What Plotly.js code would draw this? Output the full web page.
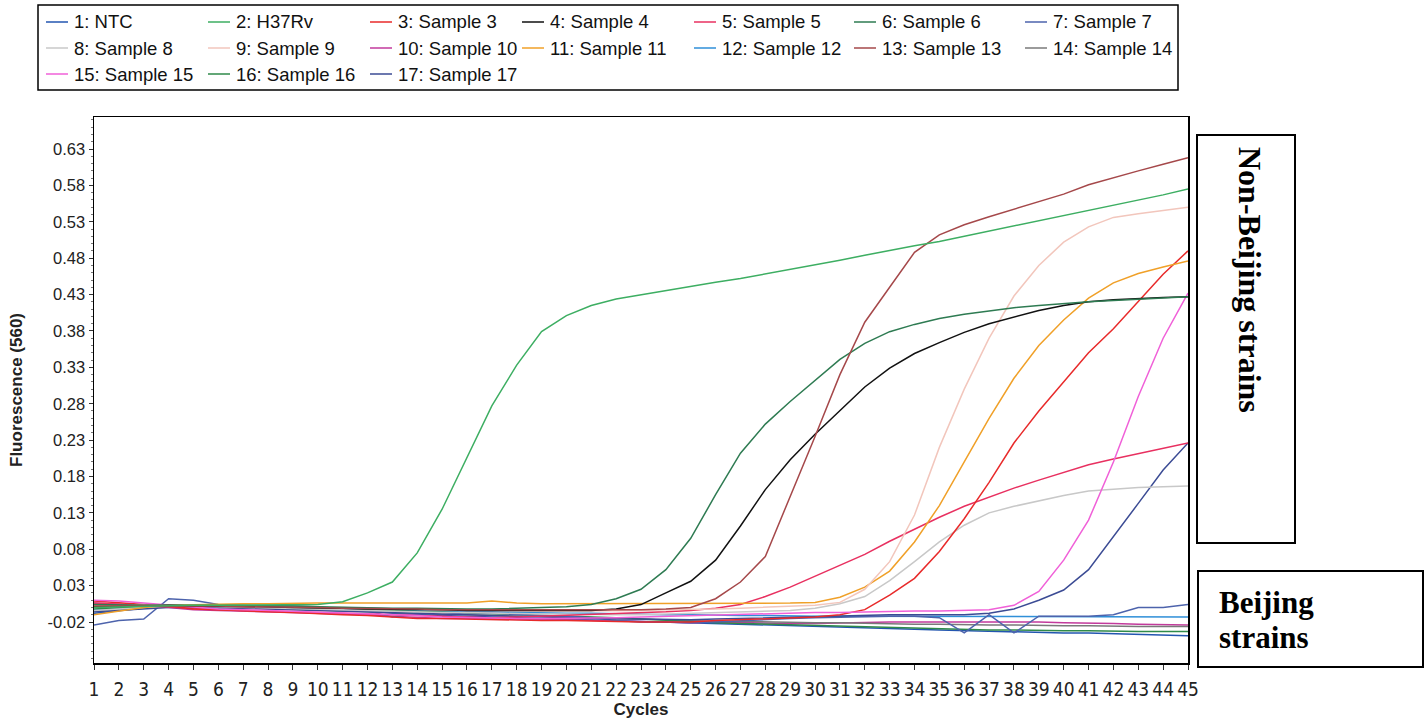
<!DOCTYPE html>
<html><head><meta charset="utf-8">
<script src="https://cdn.plot.ly/plotly-3.0.1.min.js"></script>
<style>html,body{margin:0;padding:0;background:#fff;} #chart{width:1424px;height:719px;}</style>
</head><body><div id="chart"></div>
<script>
// ---------------- data ----------------
const cycles = [1,2,3,4,5,6,7,8,9,10,11,12,13,14,15,16,17,18,19,20,21,22,23,24,25,26,27,28,29,30,31,32,33,34,35,36,37,38,39,40,41,42,43,44,45];
const xTickLabels = ['1','2','3','4','5','6','7','8','9','10','11','12','13','14','15','16','17','18','19','20','21','22','23','24','25','26','27','28','29','30','31','32','33','34','35','36','37','38','39','40','41','42','43','44','45'];
const yTickVals = [0.63,0.58,0.53,0.48,0.43,0.38,0.33,0.28,0.23,0.18,0.13,0.08,0.03,-0.02];
const yTickText = ['0.63','0.58','0.53','0.48','0.43','0.38','0.33','0.28','0.23','0.18','0.13','0.08','0.03','-0.02'];

const seriesNames = ['1: NTC','2: H37Rv','3: Sample 3','4: Sample 4','5: Sample 5','6: Sample 6','7: Sample 7',
  '8: Sample 8','9: Sample 9','10: Sample 10','11: Sample 11','12: Sample 12','13: Sample 13','14: Sample 14',
  '15: Sample 15','16: Sample 16','17: Sample 17'];
const seriesColors = ['#2356b0','#3dae62','#e82a2a','#111111','#e83060','#2e7b52','#4d63ac',
  '#c8c8c8','#f2c6bc','#c23a9c','#f0a028','#2f8fd8','#a5484a','#7a7a7a',
  '#f060d8','#2f8a4a','#3b4b94'];

const ntc      = [-0.008,-0.004,-0.001,0.002,0.002,0.002,0.001,0.0,-0.001,-0.003,-0.004,-0.005,-0.008,-0.01,-0.011,-0.012,-0.013,-0.014,-0.015,-0.016,-0.017,-0.019,-0.02,-0.021,-0.022,-0.023,-0.024,-0.025,-0.026,-0.026,-0.027,-0.028,-0.029,-0.03,-0.031,-0.032,-0.033,-0.034,-0.034,-0.035,-0.035,-0.036,-0.038,-0.039,-0.039];
const h37rv    = [0.0,0.001,0.002,0.003,0.003,0.003,0.003,0.003,0.004,0.004,0.008,0.02,0.035,0.075,0.135,0.205,0.277,0.333,0.379,0.401,0.415,0.424,0.43,0.436,0.441,0.447,0.452,0.458,0.464,0.47,0.477,0.484,0.491,0.497,0.503,0.51,0.517,0.524,0.531,0.538,0.545,0.552,0.559,0.567,0.575];
const sample3  = [0.009,0.006,0.004,0.002,-0.002,-0.003,-0.005,-0.006,-0.007,-0.009,-0.01,-0.011,-0.013,-0.015,-0.015,-0.016,-0.016,-0.018,-0.018,-0.018,-0.019,-0.019,-0.02,-0.02,-0.02,-0.018,-0.017,-0.016,-0.015,-0.013,-0.01,-0.003,0.017,0.04,0.077,0.122,0.172,0.226,0.27,0.31,0.35,0.383,0.42,0.458,0.49];
const sample4  = [0.001,0.002,0.003,0.003,0.002,0.002,0.001,0.001,0.0,0.0,-0.001,-0.002,-0.002,-0.003,-0.003,-0.004,-0.004,-0.005,-0.005,-0.005,-0.004,-0.002,0.004,0.02,0.036,0.065,0.112,0.162,0.203,0.238,0.271,0.303,0.329,0.349,0.364,0.378,0.39,0.399,0.408,0.415,0.42,0.423,0.425,0.426,0.427];
const sample5  = [0.006,0.004,0.003,0.001,-0.002,-0.003,-0.004,-0.005,-0.005,-0.007,-0.008,-0.009,-0.01,-0.012,-0.013,-0.014,-0.014,-0.013,-0.012,-0.011,-0.01,-0.009,-0.008,-0.006,-0.004,-0.001,0.004,0.015,0.028,0.043,0.058,0.073,0.091,0.108,0.124,0.139,0.152,0.164,0.175,0.186,0.196,0.204,0.211,0.219,0.226];
const sample6  = [0.004,0.003,0.003,0.003,0.003,0.003,0.002,0.002,0.002,0.001,0.0,0.0,-0.001,-0.001,-0.002,-0.002,-0.002,-0.001,0.0,0.001,0.004,0.012,0.025,0.052,0.095,0.155,0.212,0.252,0.283,0.312,0.341,0.363,0.379,0.389,0.397,0.403,0.408,0.412,0.415,0.418,0.42,0.422,0.424,0.425,0.427];
const sample7  = [-0.024,-0.018,-0.016,0.012,0.01,0.004,0.003,0.003,0.002,0.001,-0.002,-0.005,-0.013,-0.008,-0.01,-0.007,-0.008,-0.01,-0.011,-0.012,-0.014,-0.018,-0.02,-0.02,-0.021,-0.02,-0.018,-0.016,-0.015,-0.014,-0.013,-0.013,-0.012,-0.012,-0.014,-0.035,-0.01,-0.035,-0.012,-0.012,-0.012,-0.01,0.0,0.0,0.004];
const sample8  = [-0.004,-0.002,0.0,0.002,0.002,0.001,0.0,0.0,-0.001,-0.002,-0.003,-0.004,-0.005,-0.006,-0.007,-0.007,-0.008,-0.008,-0.009,-0.009,-0.01,-0.01,-0.01,-0.009,-0.008,-0.007,-0.006,-0.005,-0.004,-0.001,0.005,0.015,0.037,0.063,0.09,0.113,0.13,0.139,0.147,0.154,0.16,0.163,0.165,0.166,0.167];
const sample9  = [0.002,0.003,0.003,0.003,0.002,0.002,0.002,0.001,0.001,0.0,0.0,-0.001,-0.002,-0.003,-0.003,-0.004,-0.004,-0.005,-0.005,-0.005,-0.005,-0.004,-0.004,-0.003,-0.003,-0.002,-0.001,0.0,0.001,0.003,0.007,0.025,0.063,0.127,0.22,0.3,0.37,0.428,0.47,0.502,0.523,0.536,0.541,0.545,0.55];
const sample10 = [0.006,0.005,0.003,0.0,-0.003,-0.004,-0.005,-0.006,-0.007,-0.008,-0.009,-0.01,-0.012,-0.014,-0.015,-0.015,-0.016,-0.016,-0.017,-0.017,-0.018,-0.019,-0.02,-0.02,-0.021,-0.02,-0.021,-0.022,-0.022,-0.022,-0.021,-0.02,-0.02,-0.02,-0.02,-0.02,-0.019,-0.019,-0.02,-0.021,-0.021,-0.022,-0.023,-0.023,-0.024];
const sample11 = [-0.01,-0.005,0.0,0.003,0.004,0.005,0.005,0.005,0.006,0.006,0.006,0.006,0.006,0.006,0.006,0.006,0.009,0.006,0.005,0.005,0.005,0.005,0.005,0.005,0.005,0.005,0.005,0.005,0.006,0.007,0.014,0.028,0.05,0.09,0.14,0.2,0.26,0.315,0.36,0.395,0.425,0.446,0.459,0.468,0.476];
const sample12 = [-0.003,-0.001,0.001,0.002,0.002,0.001,0.0,0.0,-0.001,-0.002,-0.003,-0.004,-0.004,-0.005,-0.005,-0.006,-0.006,-0.007,-0.007,-0.008,-0.008,-0.009,-0.009,-0.01,-0.01,-0.011,-0.011,-0.011,-0.012,-0.012,-0.012,-0.012,-0.012,-0.013,-0.013,-0.013,-0.013,-0.013,-0.013,-0.013,-0.013,-0.013,-0.013,-0.013,-0.013];
const sample13 = [0.002,0.002,0.003,0.003,0.002,0.002,0.001,0.001,0.0,0.0,-0.001,-0.001,-0.002,-0.002,-0.003,-0.003,-0.003,-0.004,-0.004,-0.004,-0.004,-0.003,-0.003,-0.002,0.0,0.012,0.035,0.07,0.152,0.235,0.32,0.392,0.44,0.488,0.512,0.526,0.537,0.547,0.557,0.568,0.581,0.591,0.6,0.609,0.618];
const sample14 = [-0.005,-0.003,-0.001,0.001,0.001,0.0,-0.001,-0.002,-0.003,-0.004,-0.005,-0.006,-0.007,-0.008,-0.009,-0.01,-0.011,-0.012,-0.012,-0.013,-0.014,-0.015,-0.016,-0.017,-0.018,-0.019,-0.019,-0.02,-0.02,-0.021,-0.021,-0.022,-0.022,-0.023,-0.023,-0.024,-0.024,-0.024,-0.025,-0.025,-0.025,-0.026,-0.026,-0.026,-0.026];
const sample15 = [0.01,0.009,0.006,0.003,0.0,-0.002,-0.003,-0.004,-0.005,-0.006,-0.007,-0.008,-0.01,-0.011,-0.013,-0.014,-0.015,-0.015,-0.015,-0.015,-0.014,-0.014,-0.013,-0.012,-0.011,-0.01,-0.009,-0.008,-0.008,-0.007,-0.007,-0.006,-0.006,-0.005,-0.005,-0.004,-0.003,0.003,0.022,0.065,0.12,0.2,0.29,0.37,0.432];
const sample16 = [-0.002,0.0,0.002,0.003,0.003,0.003,0.002,0.001,0.0,-0.001,-0.002,-0.003,-0.004,-0.005,-0.006,-0.007,-0.008,-0.009,-0.01,-0.011,-0.012,-0.014,-0.016,-0.018,-0.02,-0.021,-0.022,-0.023,-0.024,-0.025,-0.026,-0.027,-0.028,-0.029,-0.03,-0.03,-0.031,-0.031,-0.032,-0.032,-0.032,-0.033,-0.033,-0.033,-0.033];
const sample17 = [-0.006,-0.004,-0.002,0.0,0.0,0.0,-0.001,-0.002,-0.003,-0.004,-0.005,-0.006,-0.007,-0.008,-0.009,-0.01,-0.011,-0.012,-0.013,-0.014,-0.015,-0.016,-0.016,-0.017,-0.017,-0.016,-0.015,-0.014,-0.013,-0.012,-0.011,-0.011,-0.01,-0.01,-0.01,-0.01,-0.008,-0.002,0.01,0.024,0.052,0.097,0.143,0.189,0.226];

const seriesValues = [ntc,h37rv,sample3,sample4,sample5,sample6,sample7,sample8,sample9,sample10,sample11,sample12,sample13,sample14,sample15,sample16,sample17];

const groupLabels = ['Non-Beijing strains', 'Beijing', 'strains'];

// ---------------- layout helpers ----------------
const W = 1424, H = 719;
const PL = 94, PR = 1188, PT = 117, PB = 663;
const px2x = p => (p - PL) / (PR - PL);
const py2y = p => (PB - p) / (PB - PT);

// draw order: flat curves first, then the amplification curves
const order = [0,9,11,13,15,6,16,7,4,2,14,10,8,3,5,12,1];
const traces = order.map(i => ({
  type: 'scatter', mode: 'lines', x: cycles, y: seriesValues[i], name: seriesNames[i],
  line: {color: seriesColors[i], width: 1.5}, showlegend: false, hoverinfo: 'x+y+name'
}));

// manual legend (3 rows x 7 columns)
const legCols = [46, 208, 370, 522, 694, 854, 1025];
const legRows = [22, 48, 74];
const shapes = [];
const annotations = [];
shapes.push({type:'rect', xref:'paper', yref:'paper', x0:px2x(38), x1:px2x(1178), y0:py2y(5), y1:py2y(90),
  line:{color:'#000', width:1.5}, fillcolor:'rgba(0,0,0,0)'});
seriesNames.forEach((nm, i) => {
  const r = Math.floor(i / 7), c = i % 7;
  const lx = legCols[c], ly = legRows[r];
  shapes.push({type:'line', xref:'paper', yref:'paper', x0:px2x(lx), x1:px2x(lx + 22), y0:py2y(ly), y1:py2y(ly),
    line:{color:seriesColors[i], width:1.5}});
  annotations.push({xref:'paper', yref:'paper', x:px2x(lx + 26), y:py2y(ly), xanchor:'left', yanchor:'middle',
    text:nm, showarrow:false, font:{family:'Arial, Liberation Sans, sans-serif', size:18.5, color:'#111'}});
});

// group boxes on the right
shapes.push({type:'rect', xref:'paper', yref:'paper', x0:px2x(1197), x1:px2x(1295), y0:py2y(543), y1:py2y(135),
  line:{color:'#000', width:2}, fillcolor:'rgba(0,0,0,0)'});
shapes.push({type:'rect', xref:'paper', yref:'paper', x0:px2x(1198), x1:px2x(1423), y0:py2y(667), y1:py2y(571),
  line:{color:'#000', width:2}, fillcolor:'rgba(0,0,0,0)'});
annotations.push({xref:'paper', yref:'paper', x:px2x(1250), y:py2y(280), xanchor:'center', yanchor:'middle',
  text:'<b>' + groupLabels[0] + '</b>', textangle:90, showarrow:false,
  font:{family:'Liberation Serif, Times New Roman, serif', size:32, color:'#000'}});
annotations.push({xref:'paper', yref:'paper', x:px2x(1217), y:py2y(602), xanchor:'left', yanchor:'middle',
  text:'<b>' + groupLabels[1] + '</b>', showarrow:false,
  font:{family:'Liberation Serif, Times New Roman, serif', size:31, color:'#000'}});
annotations.push({xref:'paper', yref:'paper', x:px2x(1217), y:py2y(637), xanchor:'left', yanchor:'middle',
  text:'<b>' + groupLabels[2] + '</b>', showarrow:false,
  font:{family:'Liberation Serif, Times New Roman, serif', size:31, color:'#000'}});

const layout = {
  width: W, height: H,
  margin: {l: PL, r: W - PR, t: PT, b: H - PB, pad: 0},
  paper_bgcolor: '#fff', plot_bgcolor: '#fff',
  showlegend: false,
  font: {family: 'Arial, Liberation Sans, sans-serif', color: '#222'},
  xaxis: {
    range: [1, 45], tickmode: 'array', tickvals: cycles, ticktext: xTickLabels,
    ticks: 'outside', ticklen: 5, tickcolor: '#333', tickwidth: 1,
    ticklabelstandoff: 4,
    tickfont: {family: 'Liberation Sans Narrow, DejaVu Sans Condensed, Arial Narrow, Arial, sans-serif', size: 19, color: '#222'},
    showline: true, mirror: true, linecolor: '#000', linewidth: 1.5,
    showgrid: false, zeroline: false,
    title: {text: '<b>Cycles</b>', font: {family: 'Arial, Liberation Sans, sans-serif', size: 17, color: '#222'}, standoff: 8}
  },
  yaxis: {
    range: [-0.0763, 0.674], tickmode: 'array', tickvals: yTickVals, ticktext: yTickText,
    ticks: 'outside', ticklen: 4, tickcolor: '#333', tickwidth: 1,
    tickfont: {family: 'Arial, Liberation Sans, sans-serif', size: 16.5, color: '#222'},
    minor: {tickmode: 'linear', tick0: 0.03, dtick: 0.01, ticks: 'outside', ticklen: 2, tickcolor: '#777'},
    showline: true, mirror: true, linecolor: '#000', linewidth: 1.5,
    showgrid: false, zeroline: false,
    title: {text: '<b>Fluorescence (560)</b>', font: {family: 'Arial, Liberation Sans, sans-serif', size: 17, color: '#222'}, standoff: 20}
  },
  shapes: shapes,
  annotations: annotations
};

Plotly.newPlot('chart', traces, layout, {displayModeBar: false, staticPlot: true});
</script></body></html>
